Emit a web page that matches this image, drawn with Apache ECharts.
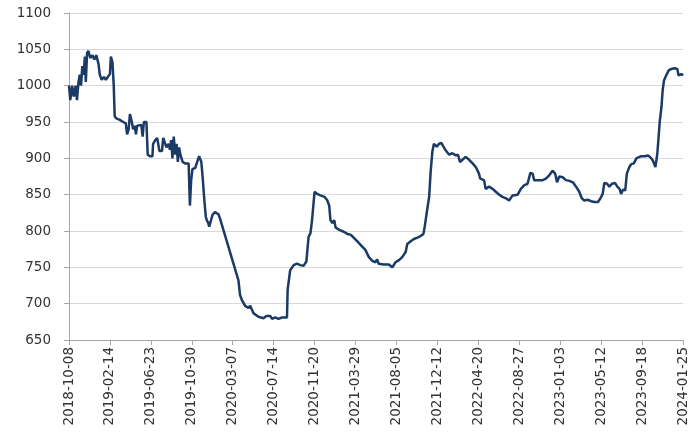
<!DOCTYPE html>
<html>
<head>
<meta charset="utf-8">
<script src="https://cdn.jsdelivr.net/npm/echarts@6/dist/echarts.min.js"></script>
<style>
html,body{margin:0;padding:0;background:#fff;}
#c{width:700px;height:439px;}
</style>
</head>
<body>
<div id="c"></div>
<script>
// Axis tick labels (every 129 days)
var tickLabels = ['2018-10-08','2019-02-14','2019-06-23','2019-10-30','2020-03-07','2020-07-14','2020-11-20','2021-03-29','2021-08-05','2021-12-12','2022-04-20','2022-08-27','2023-01-03','2023-05-12','2023-09-18','2024-01-25'];
var yTicks = [650, 700, 750, 800, 850, 900, 950, 1000, 1050, 1100];

var dates = ['2018-10-08','2018-10-12','2018-10-18','2018-10-23','2018-10-29','2018-11-02','2018-11-07','2018-11-11','2018-11-15','2018-11-19','2018-11-23','2018-11-27','2018-11-30','2018-12-04','2018-12-08','2018-12-14','2018-12-21','2018-12-27','2019-01-02','2019-01-09','2019-01-13','2019-01-19','2019-01-26','2019-02-01','2019-02-07','2019-02-14','2019-02-17','2019-02-22','2019-02-26','2019-03-01','2019-03-06','2019-03-17','2019-03-28','2019-04-05','2019-04-09','2019-04-14','2019-04-18','2019-04-24','2019-04-28','2019-05-03','2019-05-07','2019-05-11','2019-05-17','2019-05-24','2019-05-28','2019-06-01','2019-06-09','2019-06-13','2019-06-20','2019-06-28','2019-06-30','2019-07-07','2019-07-13','2019-07-20','2019-07-28','2019-08-01','2019-08-07','2019-08-11','2019-08-18','2019-08-22','2019-08-26','2019-08-30','2019-09-03','2019-09-08','2019-09-12','2019-09-16','2019-09-20','2019-09-24','2019-10-01','2019-10-09','2019-10-20','2019-10-24','2019-10-28','2019-11-01','2019-11-10','2019-11-16','2019-11-22','2019-11-29','2019-12-03','2019-12-07','2019-12-09','2019-12-13','2019-12-16','2019-12-20','2019-12-24','2019-12-30','2020-01-03','2020-01-11','2020-01-22','2020-01-27','2020-03-25','2020-03-30','2020-04-05','2020-04-15','2020-04-26','2020-05-01','2020-05-11','2020-05-27','2020-06-12','2020-06-21','2020-07-03','2020-07-09','2020-07-19','2020-07-29','2020-08-09','2020-08-25','2020-08-27','2020-09-02','2020-09-04','2020-09-15','2020-09-25','2020-10-06','2020-10-16','2020-10-25','2020-11-01','2020-11-07','2020-11-12','2020-11-17','2020-11-20','2020-11-28','2020-12-08','2020-12-21','2020-12-29','2021-01-05','2021-01-09','2021-01-15','2021-01-21','2021-01-25','2021-02-04','2021-02-20','2021-03-03','2021-03-13','2021-03-23','2021-04-03','2021-04-16','2021-04-29','2021-05-10','2021-05-21','2021-05-31','2021-06-05','2021-06-10','2021-06-26','2021-07-12','2021-07-23','2021-07-28','2021-08-02','2021-08-13','2021-08-23','2021-09-03','2021-09-08','2021-09-19','2021-09-29','2021-10-10','2021-10-20','2021-10-29','2021-11-02','2021-11-08','2021-11-16','2021-11-21','2021-11-26','2021-12-01','2021-12-10','2021-12-17','2021-12-25','2021-12-31','2022-01-07','2022-01-18','2022-01-28','2022-02-08','2022-02-15','2022-02-21','2022-03-01','2022-03-11','2022-03-22','2022-04-02','2022-04-12','2022-04-22','2022-04-26','2022-05-08','2022-05-13','2022-05-24','2022-06-04','2022-06-14','2022-06-25','2022-07-05','2022-07-16','2022-07-26','2022-08-06','2022-08-22','2022-09-01','2022-09-12','2022-09-22','2022-10-01','2022-10-08','2022-10-13','2022-11-09','2022-11-19','2022-11-30','2022-12-10','2022-12-18','2022-12-24','2022-12-31','2023-01-11','2023-01-21','2023-02-01','2023-02-12','2023-02-22','2023-03-04','2023-03-12','2023-03-20','2023-03-31','2023-04-10','2023-04-21','2023-05-02','2023-05-10','2023-05-17','2023-05-22','2023-05-31','2023-06-07','2023-06-15','2023-06-25','2023-07-02','2023-07-09','2023-07-14','2023-07-20','2023-07-27','2023-08-01','2023-08-09','2023-08-15','2023-08-23','2023-08-31','2023-09-05','2023-09-15','2023-09-26','2023-10-07','2023-10-15','2023-10-22','2023-10-30','2023-11-05','2023-11-09','2023-11-13','2023-11-18','2023-11-22','2023-11-26','2023-12-03','2023-12-11','2023-12-19','2023-12-30','2024-01-07','2024-01-11','2024-01-20','2024-01-25'];

var values = [1000,980,1000,985,1000,980,1005,1015,1000,1027,1015,1040,1005,1045,1048,1038,1042,1036,1042,1030,1015,1008,1012,1008,1012,1016,1040,1032,1000,958,955,953,950,948,933,940,961,950,940,945,933,945,943,946,930,950,950,905,903,903,920,925,928,910,910,928,927,915,920,912,925,900,930,905,920,895,915,905,895,893,893,835,870,885,887,895,903,895,875,875,840,820,815,812,806,808,822,826,823,817,732,712,705,697,694,697,687,682,680,683,683,679,681,679,681,681,719,719,746,753,755,753,752,758,792,797,815,840,854,851,849,847,843,835,815,811,815,805,802,799,796,795,791,786,780,774,764,759,757,761,755,754,754,750,750,757,760,764,771,782,786,789,791,793,796,806,824,847,883,909,920,916,920,921,916,911,905,907,904,905,895,898,902,898,893,888,879,872,870,858,861,858,854,850,847,845,842,849,850,858,863,865,880,879,870,870,872,877,883,879,867,875,874,870,869,867,861,854,845,842,843,841,840,840,845,851,866,865,861,865,866,861,858,851,857,856,879,888,892,893,900,902,903,903,904,901,897,888,906,929,952,970,994,1007,1014,1021,1023,1024,1023,1014,1016,1014];

var START = Date.UTC(2018, 9, 8);
var STEP = 129;
function dayOffset(s) {
  var p = s.split('-');
  return (Date.UTC(+p[0], +p[1] - 1, +p[2]) - START) / 86400000;
}
var seriesData = dates.map(function (d, i) { return [dayOffset(d), values[i]]; });
var xMax = dayOffset(tickLabels[tickLabels.length - 1]);

var chart = echarts.init(document.getElementById('c'), null, {renderer: 'canvas'});
chart.setOption({
  animation: false,
  backgroundColor: '#ffffff',
  grid: {left: 69, right: 17, top: 13, bottom: 99, containLabel: false},
  xAxis: {
    type: 'value',
    min: 0,
    max: xMax,
    interval: STEP,
    axisLine: {show: true, lineStyle: {color: '#A6A6A6', width: 1}},
    axisTick: {show: true, length: 5, lineStyle: {color: '#A6A6A6'}},
    splitLine: {show: false},
    axisLabel: {
      rotate: 90,
      margin: 7,
      color: '#333333',
      fontFamily: 'DejaVu Sans',
      fontSize: 13.5,
      formatter: function (v) { return tickLabels[Math.round(v / STEP)] || ''; }
    }
  },
  yAxis: {
    type: 'value',
    min: yTicks[0],
    max: yTicks[yTicks.length - 1],
    interval: 50,
    axisLine: {show: true, lineStyle: {color: '#A6A6A6', width: 1}},
    axisTick: {show: true, length: 5, lineStyle: {color: '#A6A6A6'}},
    splitLine: {show: true, lineStyle: {color: '#D9D9D9', width: 1}},
    axisLabel: {
      margin: 18,
      color: '#333333',
      fontFamily: 'DejaVu Sans',
      fontSize: 13.5,
      formatter: function (v) { return String(v); }
    }
  },
  series: [{
    type: 'line',
    data: seriesData,
    showSymbol: false,
    symbol: 'none',
    lineStyle: {color: '#1B3A66', width: 2.5},
    itemStyle: {color: '#1B3A66'}
  }]
});
</script>
</body>
</html>
